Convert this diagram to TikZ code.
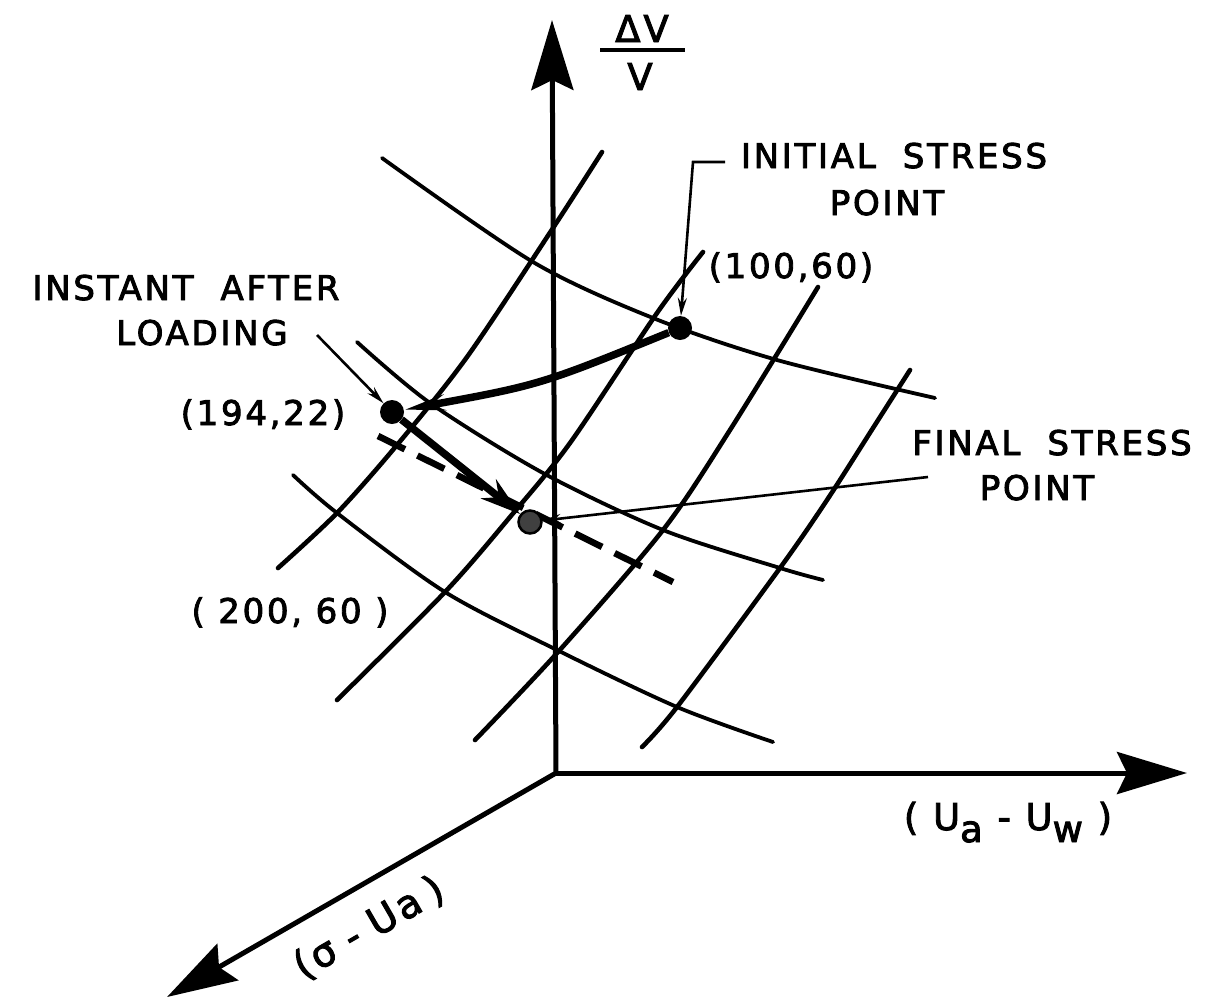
\documentclass[tikz,border=0pt]{standalone}
\usepackage{fontspec}
\setmainfont[LetterSpace=8,FakeBold=2.6]{DejaVu Sans}
\usetikzlibrary{arrows.meta}
\begin{document}
\begin{tikzpicture}[x=1pt,y=-1pt,
  lbl/.style={font=\fontsize{34}{40}\selectfont, inner sep=0pt, anchor=base},
  axlbl/.style={font=\fontsize{37}{42}\selectfont, inner sep=0pt, anchor=base},
  axisline/.style={line width=5pt, -{Stealth[length=70pt,width=42pt,inset=10pt]}},
  curveA/.style={line width=3.8pt, line cap=round},
  curveB/.style={line width=4.6pt, line cap=round},
  dot/.style={circle, fill=black, inner sep=0pt, minimum size=24pt},
  leader/.style={line width=2.6pt, -{Stealth[length=18pt,width=9pt]}},
  heavy/.style={line width=7.5pt},
  dashline/.style={line width=6.5pt, dash pattern=on 30pt off 14pt}
]
\useasboundingbox (0,0) rectangle (1225,999);
\fill[white] (0,0) rectangle (1225,999);

% grid curves
\draw[curveA] plot[smooth] coordinates {(382,158) (533,262) (653,318) (777,360) (935,398)};
\draw[curveA] plot[smooth] coordinates {(357,342) (430,403) (543,473) (663,530) (780,568) (823,580)};
\draw[curveA] plot[smooth] coordinates {(293,475) (337,513) (445,592) (557,650) (677,707) (773,742)};
\draw[curveB] plot[smooth] coordinates {(602,152) (553,228) (467,357) (397,445) (337,513) (278,568)};
\draw[curveB] plot[smooth] coordinates {(703,252) (657,313) (570,443) (510,517) (445,592) (337,700)};
\draw[curveB] plot[smooth] coordinates {(818,287) (730,430) (663,530) (558,652) (475,740)};
\draw[curveB] plot[smooth] coordinates {(910,370) (873,428) (827,500) (780,568) (677,707) (642,747)};

% axes
\coordinate (O) at (556,773);
\coordinate (Ytip) at (552,20);
\coordinate (Xtip) at (1187,773);
\coordinate (Ztip) at (167,997);
\draw[axisline] (O) -- (Ytip);
\draw[axisline] (O) -- (Xtip);
\draw[axisline] (O) -- (Ztip);

% dashed line
\coordinate (d1) at (378,436);
\coordinate (d2) at (673,582);
\draw[dashline] (d1) -- (d2);

% stress points
\node[dot] (ini) at (680,328) {};
\node[dot] (ins) at (392,412) {};
\node[dot, fill=black!75, draw=black, line width=2.5pt, minimum size=23pt] (fin) at (530,522) {};

% stress path
\draw[heavy, -{Stealth[length=38pt,width=14pt]}] (ini) .. controls (540,385) .. (ins);
\draw[heavy, -{Stealth[length=40pt,width=24pt]}] (ins) -- (fin);

% labels
\node[axlbl] (dv) at (642,42) {ΔV};
\node[axlbl] (vv) at (640,90) {V};
\coordinate (bar1) at (600,50);
\coordinate (bar2) at (685,50);
\draw[line width=4pt] (bar1) -- (bar2);

\node[lbl] (init1) at (894,168) {INITIAL\ \ STRESS};
\node[lbl] (init2) at (887,215) {POINT};
\node[lbl] (pt100) at (791,278) {(100,60)};
\node[lbl] (ins1) at (186,300) {INSTANT\ \ AFTER};
\node[lbl] (ins2) at (202,345) {LOADING};
\node[lbl] (pt194) at (263,425) {(194,22)};
\node[lbl] (fin1) at (1052,455) {FINAL\ \ STRESS};
\node[lbl] (fin2) at (1037,500) {POINT};
\node[lbl] (pt200) at (290,623) {( 200, 60 )};
\node[axlbl] (xlab) at (1008,830) {( U\raisebox{-12pt}{a} - U\raisebox{-12pt}{w} )};
\node[axlbl, anchor=center, rotate=30, font=\fontsize{39}{44}\selectfont] (zlab) at (369,928) {(σ\kern14pt-\kern14pt Ua\kern10pt)};

% leaders
\coordinate (a1) at (725,162);
\coordinate (a2) at (693,162);
\draw[leader] (a1) -- (a2) -- (ini);
\coordinate (b1) at (317,335);
\draw[leader] (b1) -- (ins);
\coordinate (c1) at (928,477);
\draw[leader] (c1) -- (fin);
\end{tikzpicture}
\end{document}
